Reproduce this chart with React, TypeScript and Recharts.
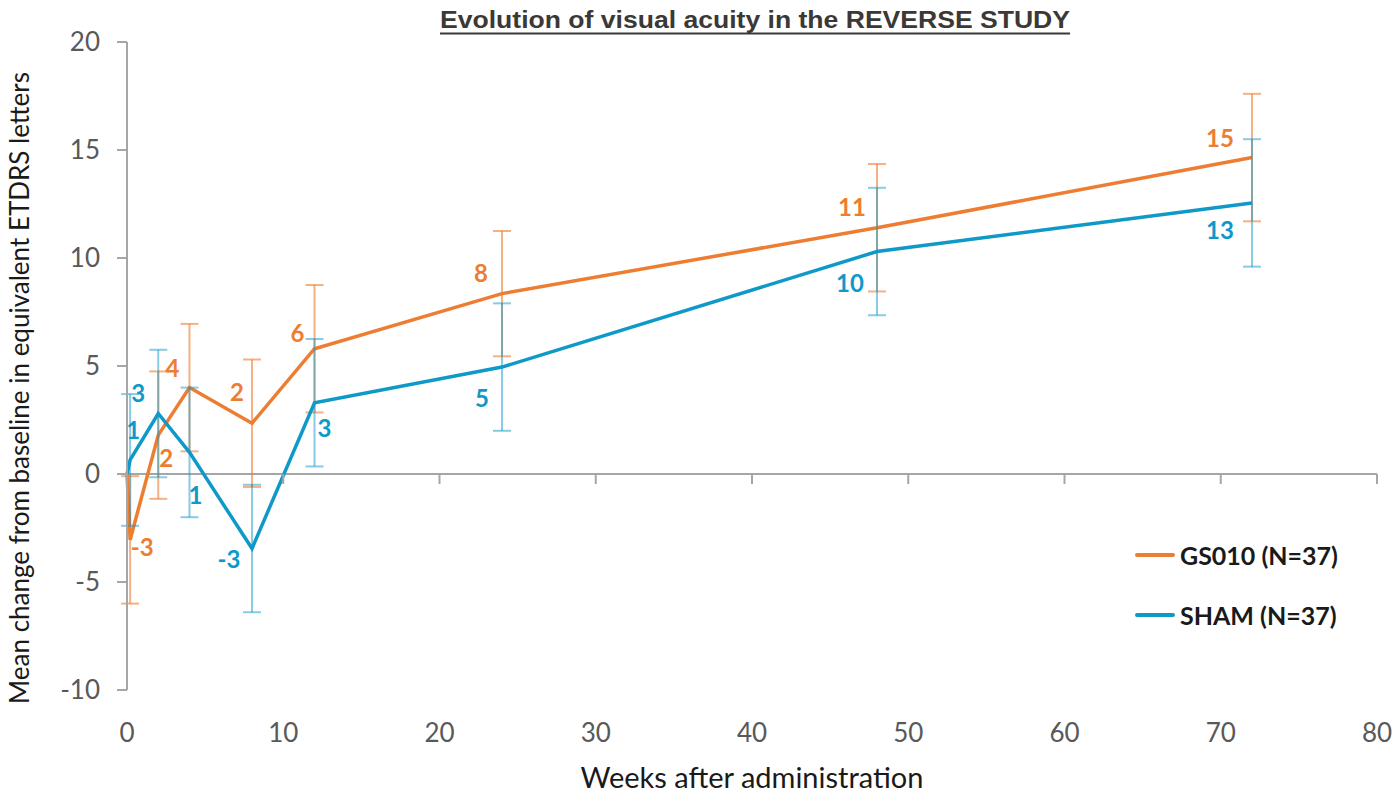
import React from 'react';
import { LineChart, Line, XAxis, YAxis, ErrorBar, LabelList, ReferenceLine, ReferenceDot, Legend } from 'recharts';

// ---- data ----
const weeks = [0, 0.2, 2, 4, 8, 12, 24, 48, 72];
const gs010Mean = [0, -3.05, 1.8, 4.0, 2.35, 5.8, 8.35, 11.4, 14.65];
const gs010Err = [null, 2.95, 2.95, 2.95, 2.95, 2.95, 2.9, 2.95, 2.95];
const shamMean = [0, 0.65, 2.8, 1.0, -3.45, 3.3, 4.95, 10.3, 12.55];
const shamErr = [null, 3.05, 2.95, 3.0, 2.95, 2.95, 2.95, 2.95, 2.95];
const xTicks = [0, 10, 20, 30, 40, 50, 60, 70, 80];
const yTicks = [-10, -5, 0, 5, 10, 15, 20];
const seriesNames = ['GS010 (N=37)', 'SHAM (N=37)'];
const titleText = 'Evolution of visual acuity in the REVERSE STUDY';
const xLabelText = 'Weeks after administration';
const yLabelText = 'Mean change from baseline in equivalent ETDRS letters';

const data = weeks.map((w, i) => ({
  week: w,
  gs: gs010Mean[i],
  gsErr: gs010Err[i],
  sham: shamMean[i],
  shamErr: shamErr[i],
}));

// ---- styling ----
const ORANGE = '#ED7D31';
const BLUE = '#0F99C9';
const AXIS = '#A6A6A6';
const TICK_TEXT = '#595959';
const FONT = 'Lato, "Open Sans", sans-serif';

// label placement (pixel offsets from each point), index 0 has no label
const gsLabelOffset: (number[] | null)[] = [null, [12, 7], [8, 22], [-17, -20], [-15, -32], [-17, -16], [-21, -21], [-25, -21], [-32, -20]];
const shamLabelOffset: (number[] | null)[] = [null, [3, -30], [-20, -21], [6, 42], [-23, 10], [10, 25], [-20, 30], [-27, 31], [-32, 27]];

const makeLabel = (offsets: (number[] | null)[], color: string) => (props: any) => {
  const { x, y, value, index } = props;
  const off = offsets[index];
  if (!off || value == null) return null;
  return (
    <text
      x={x + off[0]}
      y={y + off[1]}
      textAnchor="middle"
      dominantBaseline="central"
      fill={color}
      fontFamily={FONT}
      fontWeight={700}
      fontSize={24}
    >
      {Math.round(value)}
    </text>
  );
};

const XTick = (props: any) => {
  const { x, y, payload } = props;
  return (
    <text x={x} y={y + 42} textAnchor="middle" dominantBaseline="central" fill={TICK_TEXT} fontFamily={FONT} fontSize={26}>
      {payload.value}
    </text>
  );
};

const TickMark = (props: any) => {
  const { cx, cy } = props;
  if (cx == null || cy == null) return null;
  return <line x1={cx} y1={cy} x2={cx} y2={cy + 10} stroke={AXIS} strokeWidth={2} />;
};

const LegendContent = () => (
  <div style={{ fontFamily: FONT, fontWeight: 700, fontSize: 25, color: '#1a1a1a' }}>
    {seriesNames.map((name, i) => (
      <div key={name} style={{ display: 'flex', alignItems: 'center', height: 60 }}>
        <span style={{ display: 'inline-block', width: 40, height: 4, borderRadius: 2, background: i === 0 ? ORANGE : BLUE, marginRight: 5 }} />
        <span>{name}</span>
      </div>
    ))}
  </div>
);

export default function App() {
  return (
    <div style={{ position: 'absolute', left: 0, top: 0, width: 1396, height: 792, background: '#fff' }}>
      <svg width={1396} height={44} style={{ position: 'absolute', left: 0, top: 0 }}>
        <text
          x={755}
          y={28}
          textAnchor="middle"
          fontFamily='"Liberation Sans Narrow", "Liberation Sans", Arial, sans-serif'
          fontWeight={700}
          fontSize={24}
          fill="#3B3835"
          textLength={630}
          lengthAdjust="spacingAndGlyphs"
        >
          {titleText}
        </text>
        <line x1={440} y1={33.5} x2={1070} y2={33.5} stroke="#3B3835" strokeWidth={2} />
      </svg>
      <LineChart
        width={1396}
        height={792}
        data={data}
        margin={{ top: 42, right: 19, bottom: 0, left: 0 }}
        style={{ position: 'absolute', left: 0, top: 0 }}
      >
        <XAxis
          dataKey="week"
          type="number"
          domain={[0, 80]}
          ticks={xTicks}
          interval={0}
          axisLine={false}
          tickLine={false}
          tickSize={0}
          tickMargin={0}
          height={102}
          tick={<XTick />}
          label={{
            content: (p: any) => {
              const vb = p.viewBox || { x: 127, y: 690, width: 1250, height: 102 };
              return (
                <text x={vb.x + vb.width / 2} y={vb.y + 86} textAnchor="middle" dominantBaseline="central" fill="#1a1a1a" fontFamily={FONT} fontSize={29}>
                  {xLabelText}
                </text>
              );
            },
          }}
        />
        <YAxis
          type="number"
          domain={[-10, 20]}
          ticks={yTicks}
          interval={0}
          width={127}
          axisLine={{ stroke: AXIS, strokeWidth: 2 }}
          tickLine={{ stroke: AXIS, strokeWidth: 2 }}
          tickSize={10}
          tickMargin={17}
          tick={{ fill: TICK_TEXT, fontFamily: FONT, fontSize: 26 }}
          label={{
            content: (p: any) => {
              const vb = p.viewBox || { x: 0, y: 42, width: 127, height: 648 };
              const cx = 19;
              const cy = vb.y + vb.height / 2 + 22;
              return (
                <text x={cx} y={cy} transform={`rotate(-90, ${cx}, ${cy})`} textAnchor="middle" dominantBaseline="central" fill="#1a1a1a" fontFamily={FONT} fontSize={26}>
                  {yLabelText}
                </text>
              );
            },
          }}
        />
        <ReferenceLine y={0} stroke={AXIS} strokeWidth={2} />
        {xTicks.map((t) => (
          <ReferenceDot key={t} x={t} y={0} r={0} shape={<TickMark />} />
        ))}
        <Line
          type="linear"
          dataKey="gs"
          name={seriesNames[0]}
          stroke={ORANGE}
          strokeWidth={3.5}
          dot={false}
          activeDot={false}
          isAnimationActive={false}
        >
          <ErrorBar dataKey="gsErr" direction="y" width={9} stroke={ORANGE} strokeOpacity={0.6} strokeWidth={2} />
          <LabelList dataKey="gs" content={makeLabel(gsLabelOffset, ORANGE)} />
        </Line>
        <Line
          type="linear"
          dataKey="sham"
          name={seriesNames[1]}
          stroke={BLUE}
          strokeWidth={3.5}
          dot={false}
          activeDot={false}
          isAnimationActive={false}
        >
          <ErrorBar dataKey="shamErr" direction="y" width={9} stroke={BLUE} strokeOpacity={0.5} strokeWidth={2} />
          <LabelList dataKey="sham" content={makeLabel(shamLabelOffset, BLUE)} />
        </Line>
        <Legend
          layout="vertical"
          align="center"
          verticalAlign="middle"
          content={<LegendContent />}
          wrapperStyle={{ position: 'absolute', left: 1135, top: 525, width: 260 }}
        />
      </LineChart>
    </div>
  );
}
